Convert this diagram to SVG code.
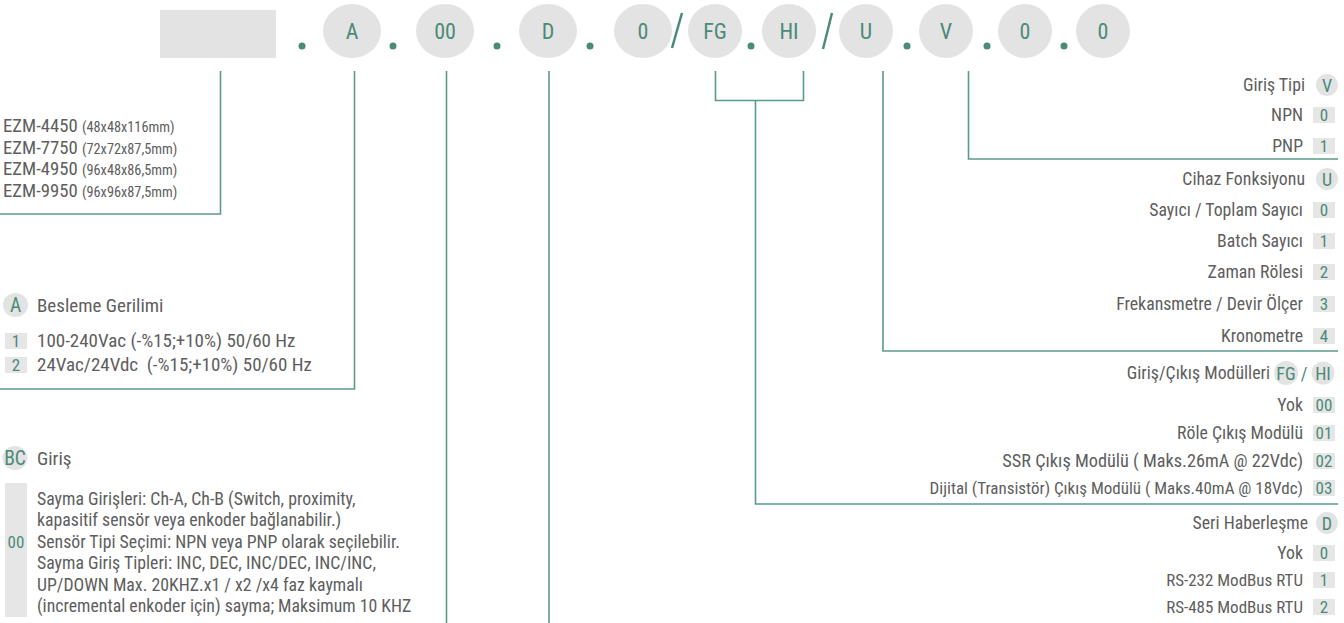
<svg xmlns="http://www.w3.org/2000/svg" width="1344" height="623" viewBox="0 0 1344 623">
<style>
text{font-family:"Liberation Sans Narrow","Roboto Condensed","DejaVu Sans Condensed","Liberation Sans",sans-serif}
.pill{fill:#e3e3e3}
.top{fill:#4a8a78;font-size:22px;text-anchor:middle}
.dot{fill:#4a8a78}
.ln{fill:none;stroke:#5a9a8a;stroke-width:1.6}
.t{fill:#5e5e5e;font-size:19px}
.p{fill:#5e5e5e;font-size:17.8px}
.m{fill:#5e5e5e;font-size:18.7px}
.s{font-size:14.3px}
.r{fill:#5e5e5e;font-size:17.8px;text-anchor:end}
.bg{fill:#e6e6e6}
.g{fill:#4a8a78;font-size:17px;text-anchor:middle}
.gh{fill:#4a8a78;font-size:18px;text-anchor:middle}
.gl{fill:#4a8a78;font-size:19.5px;text-anchor:middle}
</style>
<g id="code">
<rect class="pill" x="160" y="10" width="116" height="48"/>
<circle class="dot" cx="302" cy="46" r="3.5"/>
<ellipse class="pill" cx="352" cy="31" rx="29" ry="27"/><text class="top" x="352" y="39">A</text>
<circle class="dot" cx="393" cy="46" r="3.5"/>
<ellipse class="pill" cx="445" cy="31" rx="29" ry="27"/><text class="top" x="445" y="39">00</text>
<circle class="dot" cx="497" cy="46" r="3.5"/>
<ellipse class="pill" cx="548" cy="31" rx="29" ry="27"/><text class="top" x="548" y="39">D</text>
<circle class="dot" cx="590" cy="46" r="3.5"/>
<ellipse class="pill" cx="643" cy="31" rx="29" ry="27"/><text class="top" x="643" y="39">0</text>
<line class="ln" x1="672" y1="48" x2="682" y2="13" style="stroke:#4a8a78;stroke-width:2.5"/>
<ellipse class="pill" cx="715" cy="31" rx="27" ry="27"/><text class="top" x="715" y="39">FG</text>
<circle class="dot" cx="751" cy="46" r="3.5"/>
<ellipse class="pill" cx="789" cy="31" rx="27" ry="27"/><text class="top" x="789" y="39">HI</text>
<line class="ln" x1="823" y1="49" x2="832" y2="13" style="stroke:#4a8a78;stroke-width:2.5"/>
<ellipse class="pill" cx="866" cy="31" rx="27" ry="27"/><text class="top" x="866" y="39">U</text>
<circle class="dot" cx="907" cy="46" r="3.5"/>
<ellipse class="pill" cx="946" cy="31" rx="27" ry="27"/><text class="top" x="946" y="39">V</text>
<circle class="dot" cx="987" cy="46" r="3.5"/>
<ellipse class="pill" cx="1025" cy="31" rx="27" ry="27"/><text class="top" x="1025" y="39">0</text>
<circle class="dot" cx="1064" cy="46" r="3.5"/>
<ellipse class="pill" cx="1103" cy="31" rx="27" ry="27"/><text class="top" x="1103" y="39">0</text>
</g>
<g id="connectors">
<polyline class="ln" points="220.5,71 220.5,214 0,214"/>
<polyline class="ln" points="354.5,71 354.5,389 0,389"/>
<line class="ln" x1="446.5" y1="71" x2="446.5" y2="623"/>
<line class="ln" x1="549" y1="71" x2="549" y2="623"/>
<polyline class="ln" points="715.5,71 715.5,100.5 803.5,100.5 803.5,71"/>
<polyline class="ln" points="755.5,100.5 755.5,504 1338,504"/>
<polyline class="ln" points="883,71 883,351 1338,351"/>
<polyline class="ln" points="968.5,71 968.5,159 1338,159"/>
</g>
<g id="models">
<text class="m" x="3" y="132">EZM-4450 <tspan class="s">(48x48x116mm)</tspan></text>
<text class="m" x="3" y="153.5">EZM-7750 <tspan class="s">(72x72x87,5mm)</tspan></text>
<text class="m" x="3" y="175">EZM-4950 <tspan class="s">(96x48x86,5mm)</tspan></text>
<text class="m" x="3" y="196.5">EZM-9950 <tspan class="s">(96x96x87,5mm)</tspan></text>
</g>
<g id="supply">
<ellipse class="pill" cx="15.5" cy="305" rx="12.5" ry="12"/><text class="gl" x="15.5" y="312">A</text>
<text class="t" x="37" y="312">Besleme Gerilimi</text>
<rect class="bg" x="5" y="333" width="22" height="16"/><text class="g" x="16" y="347">1</text>
<text class="t" x="37" y="346.5">100-240Vac (-%15;+10%) 50/60 Hz</text>
<rect class="bg" x="5" y="357" width="22" height="16"/><text class="g" x="16" y="371">2</text>
<text class="t" x="37" y="370.5" xml:space="preserve">24Vac/24Vdc  (-%15;+10%) 50/60 Hz</text>
</g>
<g id="input">
<ellipse class="pill" cx="15" cy="458" rx="12.5" ry="12"/><text class="gl" x="15" y="465">BC</text>
<text class="t" x="37" y="465">Giriş</text>
<rect class="bg" x="5" y="483" width="22" height="134"/><text class="g" x="16" y="548">00</text>
<text class="p" x="37" y="504.5">Sayma Girişleri: Ch-A, Ch-B (Switch, proximity,</text>
<text class="p" x="37" y="526">kapasitif sensör veya enkoder bağlanabilir.)</text>
<text class="p" x="37" y="547.5">Sensör Tipi Seçimi: NPN veya PNP olarak seçilebilir.</text>
<text class="p" x="37" y="569">Sayma Giriş Tipleri: INC, DEC, INC/DEC, INC/INC,</text>
<text class="p" x="37" y="590.5">UP/DOWN Max. 20KHZ.x1 / x2 /x4 faz kaymalı</text>
<text class="p" x="37" y="612">(incremental enkoder için) sayma; Maksimum 10 KHZ</text>
</g>
<g id="inputtype">
<text class="r" x="1305" y="91">Giriş Tipi</text>
<circle class="pill" cx="1327" cy="85" r="11"/><text class="gh" x="1327" y="91.5">V</text>
<text class="r" x="1303" y="121">NPN</text><rect class="bg" x="1313" y="107" width="22" height="16"/><text class="g" x="1324" y="121">0</text>
<text class="r" x="1303" y="152">PNP</text><rect class="bg" x="1313" y="138" width="22" height="16"/><text class="g" x="1324" y="152">1</text>
</g>
<g id="function">
<text class="r" x="1305" y="185">Cihaz Fonksiyonu</text>
<circle class="pill" cx="1327" cy="179" r="11"/><text class="gh" x="1327" y="185.5">U</text>
<text class="r" x="1303" y="216">Sayıcı / Toplam Sayıcı</text><rect class="bg" x="1313" y="202" width="22" height="16"/><text class="g" x="1324" y="216">0</text>
<text class="r" x="1303" y="247">Batch Sayıcı</text><rect class="bg" x="1313" y="233" width="22" height="16"/><text class="g" x="1324" y="247">1</text>
<text class="r" x="1303" y="278">Zaman Rölesi</text><rect class="bg" x="1313" y="264" width="22" height="16"/><text class="g" x="1324" y="278">2</text>
<text class="r" x="1303" y="310">Frekansmetre / Devir Ölçer</text><rect class="bg" x="1313" y="296" width="22" height="16"/><text class="g" x="1324" y="310">3</text>
<text class="r" x="1303" y="342">Kronometre</text><rect class="bg" x="1313" y="328" width="22" height="16"/><text class="g" x="1324" y="342">4</text>
</g>
<g id="modules">
<text class="r" x="1270" y="379">Giriş/Çıkış Modülleri</text>
<circle class="pill" cx="1286" cy="373" r="12"/><text class="gh" x="1286" y="379.5">FG</text>
<text class="gh" x="1304" y="379.5">/</text>
<circle class="pill" cx="1323" cy="373" r="11.5"/><text class="gh" x="1323" y="379.5">HI</text>
<text class="r" x="1303" y="411">Yok</text><rect class="bg" x="1313" y="397" width="22" height="16"/><text class="g" x="1324" y="411">00</text>
<text class="r" x="1303" y="439">Röle Çıkış Modülü</text><rect class="bg" x="1313" y="425" width="22" height="16"/><text class="g" x="1324" y="439">01</text>
<text class="r" x="1303" y="467" style="font-size:18.3px">SSR Çıkış Modülü ( Maks.26mA @ 22Vdc)</text><rect class="bg" x="1313" y="453" width="22" height="16"/><text class="g" x="1324" y="467">02</text>
<text class="r" x="1303" y="494" style="font-size:17px">Dijital (Transistör) Çıkış Modülü ( Maks.40mA @ 18Vdc)</text><rect class="bg" x="1313" y="480" width="22" height="16"/><text class="g" x="1324" y="494">03</text>
</g>
<g id="serial">
<text class="r" x="1308" y="529">Seri Haberleşme</text>
<circle class="pill" cx="1327" cy="523" r="11"/><text class="gh" x="1327" y="529.5">D</text>
<text class="r" x="1303" y="559">Yok</text><rect class="bg" x="1313" y="545" width="22" height="16"/><text class="g" x="1324" y="559">0</text>
<text class="r" x="1303" y="586" style="font-size:17px">RS-232 ModBus RTU</text><rect class="bg" x="1313" y="572" width="22" height="16"/><text class="g" x="1324" y="586">1</text>
<text class="r" x="1303" y="613" style="font-size:17px">RS-485 ModBus RTU</text><rect class="bg" x="1313" y="599" width="22" height="16"/><text class="g" x="1324" y="613">2</text>
</g>
</svg>
